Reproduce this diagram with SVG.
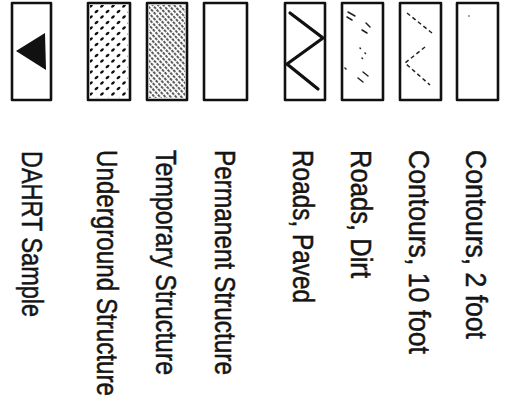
<svg xmlns="http://www.w3.org/2000/svg" width="507" height="413" viewBox="0 0 507 413">
  <style>
    .box { fill: #fff; stroke: #111; stroke-width: 2.6; stroke-linejoin: round; }
    .lbl { font-family: "Liberation Sans", Arial, sans-serif; font-size: 29px; fill: #151515; stroke: #151515; stroke-width: 0.5; }
    .road { fill: none; stroke: #111; stroke-width: 3.2; stroke-linecap: round; stroke-linejoin: miter; }
    .faint { fill: none; stroke: #222; stroke-width: 1.5; stroke-linecap: round; }
    .contour { fill: none; stroke: #222; stroke-width: 1.5; stroke-dasharray: 4 3; }
  </style>
  <defs>
    <!-- stippled fill for underground structures -->
    <pattern id="stipple" width="11" height="11" patternUnits="userSpaceOnUse" patternTransform="translate(88 3)">
      <ellipse cx="3" cy="3" rx="2.2" ry="1.3" transform="rotate(-40 3 3)" fill="#111"/>
      <ellipse cx="8.5" cy="8.5" rx="2.2" ry="1.3" transform="rotate(-40 8.5 8.5)" fill="#111"/>
    </pattern>
    <!-- dense broken hatching for temporary structures -->
    <pattern id="hatch" width="4" height="4" patternUnits="userSpaceOnUse" patternTransform="rotate(48)">
      <line x1="0" y1="2" x2="4" y2="2" stroke="#111" stroke-width="1.4" stroke-dasharray="2.8 1.2"/>
    </pattern>
  </defs>

  <!-- legend symbols -->
  <g id="sym-sample">
    <rect class="box" x="12" y="3" width="39" height="97"/>
    <polygon points="16,51 45,33 46,70" fill="#111"/>
  </g>
  <g id="sym-underground">
    <rect class="box" x="88" y="3" width="42" height="97"/>
    <rect x="90" y="5" width="38" height="93" fill="url(#stipple)"/>
  </g>
  <g id="sym-temporary">
    <rect class="box" x="147" y="3" width="40" height="97"/>
    <rect x="149" y="5" width="36" height="93" fill="url(#hatch)"/>
  </g>
  <g id="sym-permanent">
    <rect class="box" x="204" y="3" width="43" height="97"/>
  </g>
  <g id="sym-roads-paved">
    <rect class="box" x="285" y="3" width="40" height="97"/>
    <polyline class="road" points="290,13 323,38 287,64 318,89"/>
  </g>
  <g id="sym-roads-dirt">
    <rect class="box" x="342" y="3" width="41" height="97"/>
    <path class="faint" d="M348,12 L355,16 M347,17 L352,20 M366,23 L370,27 M362,30 L367,33 M360,48 L360.5,48.5 M365,53 L365.5,53.5 M362,58 L362.5,58.5 M345,68 L346,69 M363,72 L368,76 M358,78 L363,82"/>
  </g>
  <g id="sym-contours-10">
    <rect class="box" x="400" y="3" width="41" height="97"/>
    <polyline class="contour" points="407,13 432,33"/>
    <polyline class="contour" points="425,47 405,63 430,85"/>
  </g>
  <g id="sym-contours-2">
    <rect class="box" x="457" y="3" width="41" height="97"/>
    <circle cx="469" cy="16" r="0.8" fill="#333"/>
  </g>

  <!-- legend labels, set vertically -->
  <g id="labels">
    <text class="lbl" transform="translate(22 151) rotate(90)" textLength="166" lengthAdjust="spacingAndGlyphs">DAHRT Sample</text>
    <text class="lbl" transform="translate(97 150) rotate(90)" textLength="246" lengthAdjust="spacingAndGlyphs">Underground Structure</text>
    <text class="lbl" transform="translate(156 150) rotate(90)" textLength="225" lengthAdjust="spacingAndGlyphs">Temporary Structure</text>
    <text class="lbl" transform="translate(215 150) rotate(90)" textLength="225" lengthAdjust="spacingAndGlyphs">Permanent Structure</text>
    <text class="lbl" transform="translate(293 150) rotate(90)" textLength="153" lengthAdjust="spacingAndGlyphs">Roads, Paved</text>
    <text class="lbl" transform="translate(351 150) rotate(90)" textLength="128" lengthAdjust="spacingAndGlyphs">Roads, Dirt</text>
    <text class="lbl" transform="translate(409 150) rotate(90)" textLength="204" lengthAdjust="spacingAndGlyphs">Contours, 10 foot</text>
    <text class="lbl" transform="translate(466 150) rotate(90)" textLength="189" lengthAdjust="spacingAndGlyphs">Contours, 2 foot</text>
  </g>
</svg>
